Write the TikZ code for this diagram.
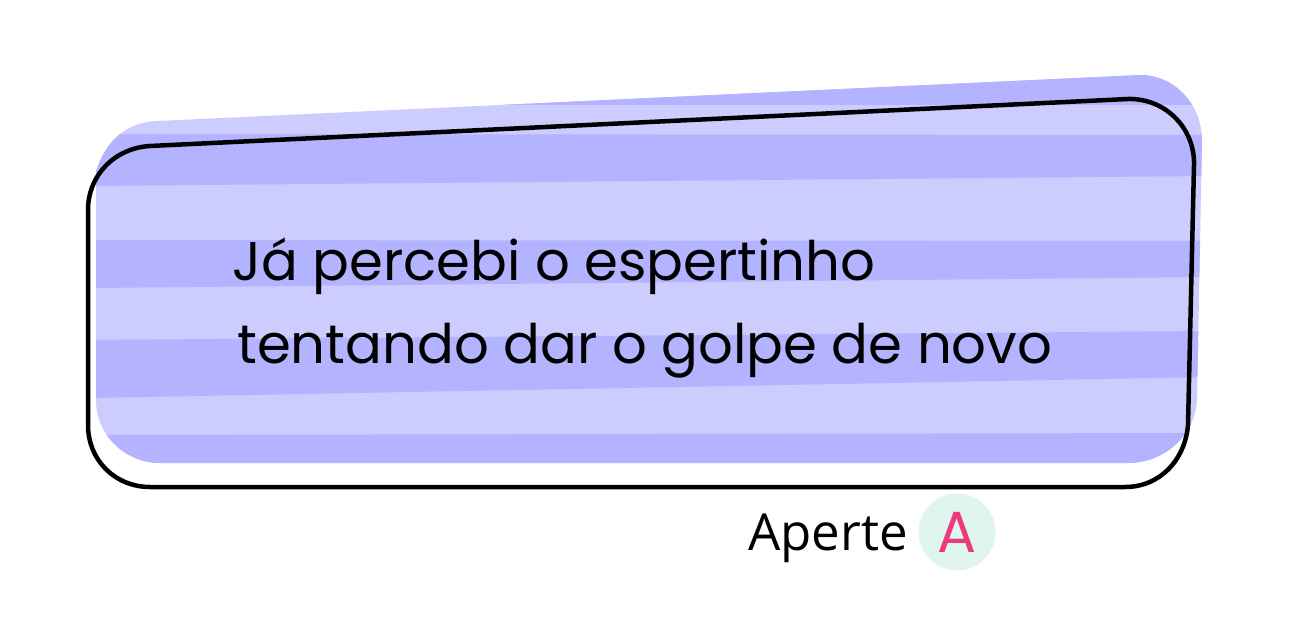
\documentclass[tikz,border=0pt]{standalone}
\usepackage{fontspec}
\usetikzlibrary{positioning}
\newfontfamily\speechfont{Poppins}
\newfontfamily\hintfont{Open Sans}
\definecolor{stripelight}{HTML}{CCCCFF}
\definecolor{stripedark}{HTML}{B3B3FF}
\definecolor{buttonbg}{HTML}{E0F5EE}
\definecolor{buttonfg}{HTML}{EC3A7C}
\begin{document}
\begin{tikzpicture}[x=1pt,y=-1pt,
  stripe/.style={fill=stripedark},
  speech text/.style={anchor=base west,inner sep=0pt,font=\speechfont\fontsize{54.5}{60}\selectfont},
  hint text/.style={anchor=base west,inner sep=0pt,font=\hintfont\fontsize{51}{60}\selectfont},
  button/.style={circle,fill=buttonbg,minimum size=77pt,inner sep=0pt,text=buttonfg,font=\speechfont\fontsize{58}{60}\selectfont}]

  \useasboundingbox (0,0) rectangle (1290,620);

  % bubble fill with its stripes
  \begin{scope}
    \clip (96,172) .. controls (105,142) and (125,122) .. (158,121) -- (1140,75)
      .. controls (1175,75) and (1202,105) .. (1202,140) -- (1197,400)
      .. controls (1195,435) and (1165,463) .. (1128,463) -- (160,463)
      .. controls (125,463) and (96,435) .. (96,400) -- cycle;
    \fill[stripelight] (90,70) rectangle (1210,470);
    \fill[stripe] (90,70) rectangle (1210,105.5);
    \fill[stripe] (90,134) -- (1210,135) -- (1210,176) -- (90,186) -- cycle;
    \fill[stripe] (90,240) -- (1210,241) -- (1210,277) -- (90,288) -- cycle;
    \fill[stripe] (90,340) -- (1210,331) -- (1210,377) -- (90,398) -- cycle;
    \fill[stripe] (90,435) -- (1210,433) -- (1210,470) -- (90,470) -- cycle;
  \end{scope}

  % outline
  \draw[line width=4.5pt] (150,146) -- (1128,99)
    .. controls (1165,98) and (1195,128) .. (1194,165) -- (1188,425)
    .. controls (1185,460) and (1160,487) .. (1125,487) -- (150,487)
    .. controls (115,487) and (88,460) .. (88,425) -- (88,210)
    .. controls (88,175) and (115,148) .. (150,146) -- cycle;

  \node[speech text] (line1) at (232,281) {Já percebi o espertinho};
  \node[speech text] (line2) at (237,363) {tentando dar o golpe de novo};

  \node[hint text] (hint) at (748,550) {Aperte};
  \node[button] (btn) at (957,532) {A};

\end{tikzpicture}
\end{document}
